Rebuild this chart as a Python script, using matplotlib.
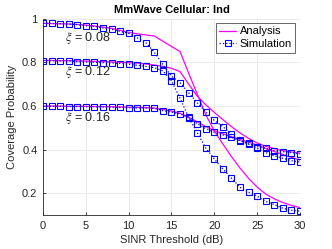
import numpy as np
import matplotlib
matplotlib.use("Agg")
import matplotlib.pyplot as plt

plt.rcParams['font.family'] = ['Liberation Sans', 'DejaVu Sans']
plt.rcParams['mathtext.fontset'] = 'stix'

# SINR threshold (dB)
sinr_db = list(range(0, 31))

# Analysis curves
ana_008 = [0.978, 0.977, 0.976, 0.975, 0.973, 0.970, 0.966, 0.961, 0.955, 0.946, 0.937,
           0.930, 0.925, 0.920, 0.896, 0.872, 0.849, 0.750, 0.655, 0.560, 0.485,
           0.425, 0.368, 0.315, 0.268, 0.228, 0.196, 0.174, 0.157, 0.144, 0.134]
ana_012 = [0.808, 0.808, 0.807, 0.807, 0.806, 0.805, 0.804, 0.803, 0.801, 0.800, 0.798,
           0.796, 0.792, 0.787, 0.781, 0.772, 0.757, 0.700, 0.645, 0.605, 0.570,
           0.537, 0.505, 0.476, 0.451, 0.430, 0.415, 0.404, 0.395, 0.389, 0.383]
ana_016 = [0.599, 0.599, 0.599, 0.598, 0.598, 0.598, 0.597, 0.597, 0.596, 0.595, 0.594,
           0.593, 0.592, 0.590, 0.584, 0.576, 0.566, 0.549, 0.527, 0.505, 0.487,
           0.472, 0.459, 0.446, 0.434, 0.420, 0.405, 0.391, 0.377, 0.364, 0.352]

# Simulation curves
sim_008 = [0.979, 0.978, 0.976, 0.975, 0.972, 0.967, 0.964, 0.957, 0.951, 0.941, 0.932,
           0.912, 0.890, 0.845, 0.790, 0.736, 0.706, 0.660, 0.615, 0.572, 0.533,
           0.505, 0.470, 0.442, 0.424, 0.406, 0.386, 0.371, 0.360, 0.349, 0.342]
sim_012 = [0.807, 0.807, 0.806, 0.806, 0.802, 0.801, 0.800, 0.798, 0.797, 0.794, 0.791,
           0.786, 0.781, 0.775, 0.760, 0.715, 0.635, 0.548, 0.477, 0.407, 0.357,
           0.311, 0.269, 0.227, 0.205, 0.186, 0.162, 0.148, 0.131, 0.122, 0.118]
sim_016 = [0.598, 0.598, 0.598, 0.597, 0.597, 0.596, 0.596, 0.595, 0.594, 0.593, 0.592,
           0.591, 0.590, 0.588, 0.578, 0.571, 0.564, 0.545, 0.519, 0.496, 0.479,
           0.467, 0.456, 0.440, 0.429, 0.413, 0.406, 0.395, 0.390, 0.386, 0.380]

xi_labels = [r'$\xi$ = 0.08', r'$\xi$ = 0.12', r'$\xi$ = 0.16']
xi_label_pos = [(2.6, 0.912), (2.6, 0.757), (2.6, 0.545)]

fig = plt.figure(figsize=(3.32, 2.49), dpi=100)
ax = fig.add_axes([0.1295, 0.1365, 0.774, 0.789])

axcol = '#262626'
for i, a in enumerate([ana_008, ana_012, ana_016]):
    ax.plot(sinr_db, a, '-', color=(1, 0, 1), lw=0.9,
            label='Analysis' if i == 0 else None, zorder=2)
for i, s in enumerate([sim_008, sim_012, sim_016]):
    ax.plot(sinr_db, s, ':', color=(0, 0, 1), lw=0.9, marker='s', ms=3.8,
            mfc='none', mec=(0, 0, 1), mew=0.8,
            label='Simulation' if i == 0 else None, zorder=3)

for txt, (tx, ty) in zip(xi_labels, xi_label_pos):
    ax.text(tx, ty, txt, fontsize=9, ha='left', va='center', color=axcol)

ax.set_xlim(0, 30)
ax.set_ylim(0.1, 1.0)
ax.set_xticks([0, 5, 10, 15, 20, 25, 30])
ax.set_yticks([0.2, 0.4, 0.6, 0.8, 1.0])
ax.set_yticklabels(['0.2', '0.4', '0.6', '0.8', '1'])
ax.grid(True, color='#e6e6e6', lw=0.6)
ax.set_axisbelow(True)
for side in ['top', 'right']:
    ax.spines[side].set_visible(False)
for side in ['left', 'bottom']:
    ax.spines[side].set_color(axcol)
    ax.spines[side].set_linewidth(0.6)
ax.tick_params(direction='in', length=2.5, width=0.6, colors=axcol,
               labelsize=8, pad=4)

ax.set_title('MmWave Cellular: Ind', fontsize=8, fontweight='bold',
             color='black', pad=4)
ax.set_xlabel('SINR Threshold (dB)', fontsize=8, color=axcol, labelpad=3)
ax.set_ylabel('Coverage Probability', fontsize=8, color=axcol, labelpad=4)

leg = ax.legend(loc='upper right', bbox_to_anchor=(0.981, 0.977), borderaxespad=0,
                fontsize=8, handlelength=1.5, handletextpad=0.3, labelspacing=0.25,
                borderpad=0.3, fancybox=False, framealpha=1)
leg.get_frame().set_edgecolor('0.3')
leg.get_frame().set_linewidth(0.6)

fig.savefig('out.png', dpi=100)
